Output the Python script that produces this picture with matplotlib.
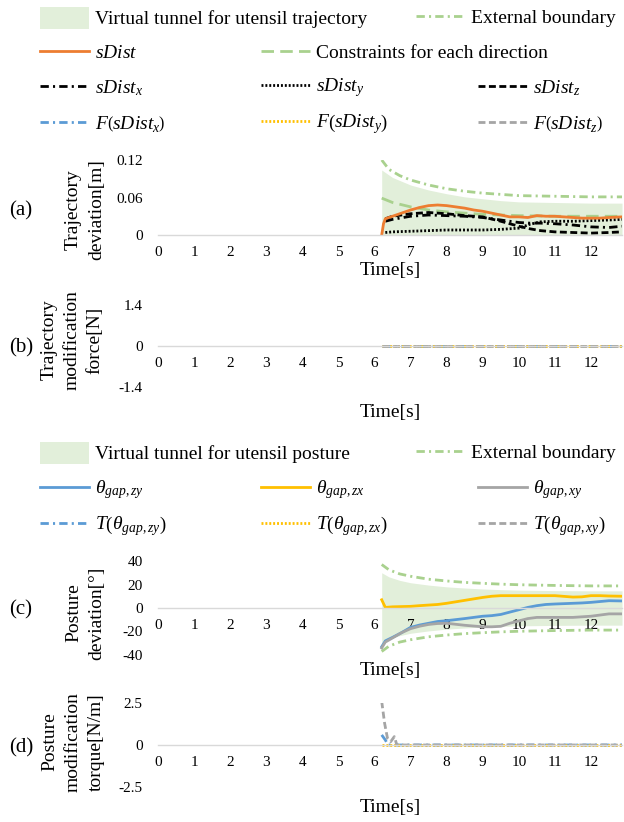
import matplotlib
matplotlib.use("Agg")
import matplotlib.pyplot as plt
from matplotlib.lines import Line2D
from matplotlib.patches import Patch

plt.rcParams['font.family'] = ['Liberation Serif', 'DejaVu Serif']
plt.rcParams['mathtext.fontset'] = 'custom'
plt.rcParams['mathtext.rm'] = 'Liberation Serif'
plt.rcParams['mathtext.it'] = 'Liberation Serif:italic'
plt.rcParams['lines.scale_dashes'] = False

# --- Data --------------------------------------------------------------

# (a) trajectory deviation [m]
t_tunnel_a = [6.2, 6.5, 7.0, 7.5, 8.0, 8.5, 9.0, 9.5, 10.0, 11.0, 12.0, 12.86]
tunnel_a = [0.104, 0.092, 0.080, 0.072, 0.066, 0.061, 0.058, 0.055, 0.053, 0.052, 0.051, 0.051]
t_bound_a = [6.2, 6.4, 6.7, 7.0, 7.5, 8.0, 8.5, 9.0, 9.5, 10.0, 11.0, 12.0, 12.86]
bound_a = [0.120, 0.105, 0.095, 0.088, 0.080, 0.074, 0.070, 0.067, 0.065, 0.063, 0.062, 0.061, 0.061]
t_constr = [6.2, 6.5, 7.0, 7.5, 8.0, 8.5, 9.0, 9.5, 10.0, 11.0, 12.0, 12.86]
constr = [0.059, 0.052, 0.045, 0.040, 0.037, 0.035, 0.033, 0.032, 0.031, 0.030, 0.030, 0.030]

t_sdist = [6.2, 6.25, 6.3, 6.5, 6.75, 7.0, 7.25, 7.5, 7.75, 8.0, 8.25, 8.5, 8.75,
           9.0, 9.25, 9.5, 9.75, 10.0, 10.25, 10.5, 10.75, 11.0, 11.25, 11.5,
           11.75, 12.0, 12.25, 12.5, 12.86]
sdist = [0.0, 0.018, 0.026, 0.030, 0.035, 0.040, 0.044, 0.047, 0.048, 0.047,
         0.045, 0.043, 0.040, 0.038, 0.035, 0.032, 0.029, 0.029, 0.028, 0.031,
         0.030, 0.030, 0.029, 0.028, 0.027, 0.027, 0.027, 0.028, 0.029]
t_xyz = [6.3, 6.5, 7.0, 7.5, 8.0, 8.5, 9.0, 9.5, 10.0, 10.3, 10.6, 11.0, 11.5, 12.0, 12.5, 12.86]
sdist_x = [0.022, 0.025, 0.030, 0.032, 0.031, 0.030, 0.028, 0.024, 0.020, 0.019,
           0.019, 0.018, 0.016, 0.013, 0.012, 0.014]
sdist_y = [0.004, 0.005, 0.006, 0.007, 0.008, 0.008, 0.008, 0.009, 0.011, 0.017,
           0.021, 0.022, 0.022, 0.023, 0.024, 0.025]
sdist_z = [0.026, 0.030, 0.034, 0.036, 0.034, 0.031, 0.029, 0.022, 0.014, 0.010,
           0.007, 0.005, 0.004, 0.003, 0.004, 0.005]

# (b) trajectory modification force [N]
t_force = [6.2, 12.86]
f_x = [0.0, 0.0]
f_y = [0.0, 0.0]
f_z = [0.0, 0.0]

# (c) posture deviation [deg]
t_tunnel_c = [6.2, 6.4, 6.7, 7.0, 7.5, 8.0, 8.5, 9.0, 9.5, 10.0, 11.0, 12.0, 12.86]
tunnel_c = [30, 26.5, 23.5, 21.5, 19.5, 18, 17, 16.2, 15.6, 15.2, 14.8, 14.6, 14.6]
bound_c = [37, 32.5, 29, 27, 24.5, 23, 21.8, 21, 20.3, 19.8, 19.2, 18.8, 18.8]
t_theta = [6.2, 6.3, 6.5, 6.75, 7.0, 7.25, 7.5, 7.75, 8.0, 8.5, 9.0, 9.25, 9.5,
           9.75, 10.0, 10.25, 10.5, 10.75, 11.0, 11.5, 11.75, 12.0, 12.25, 12.5, 12.86]
theta_zy = [-33, -28, -25, -21, -16.5, -14.5, -13, -11.5, -10.8, -9, -7, -6.5, -5.5,
            -3.5, -1.5, 0.5, 2, 3, 3.4, 4, 4.3, 4.8, 5.5, 6.2, 6]
theta_zx = [7, 0.5, 1, 1.2, 1.4, 2, 2.5, 3, 4, 6.5, 9, 10, 10.5, 10.5, 10.5, 10.5,
            10.5, 10.5, 10.5, 9.3, 9.5, 10.5, 10.5, 10.2, 10]
theta_xy = [-34, -29, -25.5, -21, -17.6, -15.5, -14, -13.2, -13, -14.7, -16, -16,
            -15.6, -13, -11, -9, -8, -8, -8, -8, -7.5, -7, -6, -5, -5]

# (d) posture modification torque [N/m]
t_tq_zy = [6.2, 6.3, 6.38, 12.86]
tq_zy = [0.6, 0.3, 0.0, 0.0]
t_tq_zx = [6.2, 12.86]
tq_zx = [0.0, 0.0]
t_tq_xy = [6.2, 6.28, 6.36, 6.45, 6.55, 6.62, 12.86]
tq_xy = [2.6, 1.3, 0.4, 0.2, 0.5, 0.0, 0.0]

# --- Styles -------------------------------------------------------------

FILL = '#E2EFDA'
GREEN = '#A9D18E'
ORANGE = '#ED7D31'
BLUE = '#5B9BD5'
GOLD = '#FFC000'
GRAY = '#A5A5A5'
AXIS = '#D9D9D9'

LW = 2.0
DASHDOT = (6, 3, 1.5, 3)
LONGDASH = (9, 4.5)
DASH = (5, 2.5)
DOT = (1.4, 1.4)

W, H = 624, 822
fig = plt.figure(figsize=(W / 100, H / 100), dpi=100)


def px_axes(top, bottom, left=158, right=622):
    return fig.add_axes([left / W, 1 - bottom / H, (right - left) / W, (bottom - top) / H])


def style(ax, ylim, yticks, ylabels):
    ax.set_xlim(0, 12.86)
    ax.set_ylim(*ylim)
    ax.set_xticks(range(13))
    ax.set_yticks(yticks)
    ax.set_yticklabels(ylabels)
    for s in ('top', 'right', 'left'):
        ax.spines[s].set_visible(False)
    ax.spines['bottom'].set_position(('data', 0))
    ax.spines['bottom'].set_color(AXIS)
    ax.spines['bottom'].set_linewidth(1.0)
    ax.tick_params(axis='x', length=0, labelsize=11, pad=8)
    ax.tick_params(axis='y', length=0, labelsize=11, pad=11)
    ax.patch.set_alpha(0)


def fig_text(x, y, s, **kw):
    fig.text(x / W, 1 - y / H, s, ha='center', va='center', **kw)


# (a)
ax_a = px_axes(160, 235)
ax_a.fill_between(t_tunnel_a, 0, tunnel_a, color=FILL, lw=0)
ax_a.plot(t_bound_a, bound_a, color=GREEN, lw=LW, dashes=DASHDOT)
ax_a.plot(t_constr, constr, color=GREEN, lw=LW, dashes=LONGDASH)
ax_a.plot(t_xyz, sdist_x, color='black', lw=LW, dashes=DASHDOT)
ax_a.plot(t_xyz, sdist_y, color='black', lw=LW, dashes=DOT)
ax_a.plot(t_xyz, sdist_z, color='black', lw=LW, dashes=DASH)
ax_a.plot(t_sdist, sdist, color=ORANGE, lw=LW)
style(ax_a, (0, 0.12), [0, 0.06, 0.12], ['0', '0.06', '0.12'])

# (b)
ax_b = px_axes(305, 387)
ax_b.plot(t_force, f_x, color=BLUE, lw=LW, dashes=DASHDOT)
ax_b.plot(t_force, f_y, color=GOLD, lw=LW, dashes=DOT)
ax_b.plot(t_force, f_z, color=GRAY, lw=LW, dashes=DASH)
style(ax_b, (-1.4, 1.4), [-1.4, 0, 1.4], ['-1.4', '0', '1.4'])

# (c)
ax_c = px_axes(561, 655)
ax_c.fill_between(t_tunnel_c, [-v for v in tunnel_c], tunnel_c, color=FILL, lw=0)
ax_c.plot(t_tunnel_c, bound_c, color=GREEN, lw=LW, dashes=DASHDOT)
ax_c.plot(t_tunnel_c, [-v for v in bound_c], color=GREEN, lw=LW, dashes=DASHDOT)
ax_c.plot(t_theta, theta_zy, color=BLUE, lw=LW)
ax_c.plot(t_theta, theta_zx, color=GOLD, lw=LW)
ax_c.plot(t_theta, theta_xy, color=GRAY, lw=LW)
style(ax_c, (-40, 40), [-40, -20, 0, 20, 40], ['-40', '-20', '0', '20', '40'])

# (d)
ax_d = px_axes(703, 787)
ax_d.plot(t_tq_zy, tq_zy, color=BLUE, lw=LW, dashes=DASHDOT)
ax_d.plot(t_tq_zx, tq_zx, color=GOLD, lw=LW, dashes=DOT)
ax_d.plot(t_tq_xy, tq_xy, color=GRAY, lw=LW, dashes=DASH)
style(ax_d, (-2.5, 2.5), [-2.5, 0, 2.5], ['-2.5', '0', '2.5'])

# Labels
for y in (270, 412, 671, 807):
    fig_text(390, y, 'Time[s]', fontsize=14)

ylab = dict(rotation=90, fontsize=14, linespacing=1.45, multialignment='center')
fig_text(85, 210, 'Trajectory\ndeviation[m]', **ylab)
fig_text(72, 340, 'Trajectory\nmodification\nforce[N]', **ylab)
fig_text(85, 613, 'Posture\ndeviation[°]', **ylab)
fig_text(73, 742, 'Posture\nmodification\ntorque[N/m]', **ylab)
for s, y in (('(a)', 211), ('(b)', 348), ('(c)', 610), ('(d)', 748)):
    fig_text(21, y, s, fontsize=15)


# Legends (one entry each, placed by pixel position)
def leg_item(handle, label, x, y, patch=False):
    fig.legend(handles=[handle], labels=[label], loc='center left',
               bbox_to_anchor=(x / W, 1 - y / H), frameon=False,
               fontsize=14, borderpad=0, borderaxespad=0,
               handlelength=2.5, handletextpad=0.35,
               handleheight=1.4 if patch else 0.7)


def ln(color, dashes=None):
    if dashes is None:
        return Line2D([], [], color=color, lw=LW)
    return Line2D([], [], color=color, lw=LW, dashes=dashes)


tunnel_patch = Patch(facecolor=FILL, edgecolor='none')

leg_item(tunnel_patch, 'Virtual tunnel for utensil trajectory', 40, 18, patch=True)
leg_item(ln(GREEN, DASHDOT), 'External boundary', 416, 18)
leg_item(ln(ORANGE), r'$sDist$', 40, 53)
leg_item(ln(GREEN, LONGDASH), 'Constraints for each direction', 261, 53)
leg_item(ln('black', DASHDOT), r'$sDist_x$', 40, 88)
leg_item(ln('black', DOT), r'$sDist_y$', 261, 88)
leg_item(ln('black', DASH), r'$sDist_z$', 478, 88)
leg_item(ln(BLUE, DASHDOT), r'$F\left(sDist_x\right)$', 40, 124)
leg_item(ln(GOLD, DOT), r'$F\left(sDist_y\right)$', 261, 124)
leg_item(ln(GRAY, DASH), r'$F\left(sDist_z\right)$', 478, 124)

leg_item(tunnel_patch, 'Virtual tunnel for utensil posture', 40, 453, patch=True)
leg_item(ln(GREEN, DASHDOT), 'External boundary', 416, 453)
leg_item(ln(BLUE), r'$\theta_{gap,zy}$', 40, 490)
leg_item(ln(GOLD), r'$\theta_{gap,zx}$', 261, 490)
leg_item(ln(GRAY), r'$\theta_{gap,xy}$', 478, 490)
leg_item(ln(BLUE, DASHDOT), r'$T\left(\theta_{gap,zy}\right)$', 40, 526)
leg_item(ln(GOLD, DOT), r'$T\left(\theta_{gap,zx}\right)$', 261, 526)
leg_item(ln(GRAY, DASH), r'$T\left(\theta_{gap,xy}\right)$', 478, 526)

fig.savefig('out.png', dpi=100)
